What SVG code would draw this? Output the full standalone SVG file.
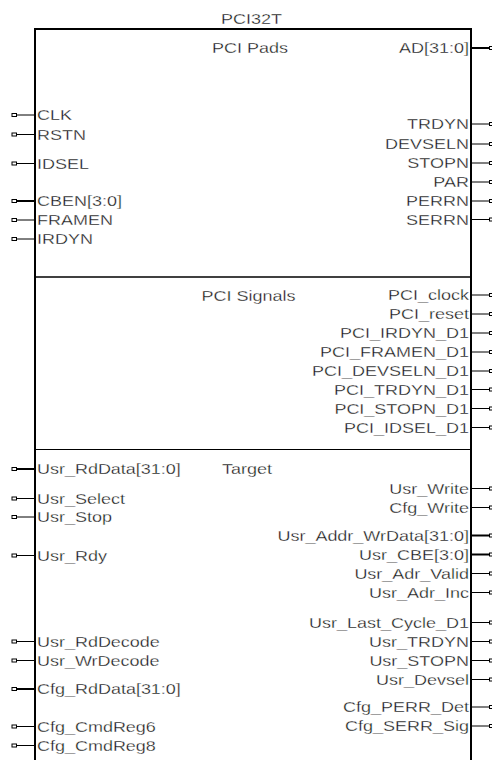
<svg xmlns="http://www.w3.org/2000/svg" width="492" height="760" viewBox="0 0 492 760">
<style>
.box{fill:none;stroke:#000;stroke-width:2}
.div1{stroke:#000;stroke-width:1.6}
.div2{stroke:#000;stroke-width:1.1}
.w{stroke:#000;stroke-width:1}
.bus{stroke:#000;stroke-width:2}
.pin{fill:#fff;stroke:#000;stroke-width:1}
text{font-family:"Liberation Sans",Arial,sans-serif;font-size:15px;fill:#111;stroke:#fff;stroke-width:0.3px}
.l{text-anchor:start}
.r{text-anchor:end}
.c{text-anchor:middle}
</style>
<rect width="492" height="760" fill="#fff"/>
<g id="pci32t">
<path class="box" d="M35,775 V29 H471 V775"/>
<line class="div1" x1="35" y1="277" x2="471" y2="277"/>
<line class="div2" x1="35" y1="449.5" x2="471" y2="449.5"/>
<g transform="scale(1.2 1)">
<text class="c" x="209.6" y="24">PCI32T</text>
<g id="pci-pads">
<text class="l" x="176.7" y="53">PCI Pads</text>
<text class="l" x="30.8" y="120.3">CLK</text>
<text class="l" x="30.8" y="139.8">RSTN</text>
<text class="l" x="30.8" y="168.8">IDSEL</text>
<text class="l" x="30.8" y="206.3">CBEN[3:0]</text>
<text class="l" x="30.8" y="225.3">FRAMEN</text>
<text class="l" x="30.8" y="244.3">IRDYN</text>
<text class="r" x="390.8" y="53.3">AD[31:0]</text>
<text class="r" x="390.8" y="129.3">TRDYN</text>
<text class="r" x="390.8" y="149.3">DEVSELN</text>
<text class="r" x="390.8" y="168.3">STOPN</text>
<text class="r" x="390.8" y="187.3">PAR</text>
<text class="r" x="390.8" y="206.3">PERRN</text>
<text class="r" x="390.8" y="224.8">SERRN</text>
</g>
<g id="pci-signals">
<text class="l" x="167.9" y="301">PCI Signals</text>
<text class="r" x="390.8" y="300.3">PCI_clock</text>
<text class="r" x="390.8" y="319.3">PCI_reset</text>
<text class="r" x="390.8" y="338.3">PCI_IRDYN_D1</text>
<text class="r" x="390.8" y="357.3">PCI_FRAMEN_D1</text>
<text class="r" x="390.8" y="376.3">PCI_DEVSELN_D1</text>
<text class="r" x="390.8" y="394.8">PCI_TRDYN_D1</text>
<text class="r" x="390.8" y="413.8">PCI_STOPN_D1</text>
<text class="r" x="390.8" y="432.8">PCI_IDSEL_D1</text>
</g>
<g id="target">
<text class="l" x="185" y="474.5">Target</text>
<text class="l" x="30.8" y="474.3">Usr_RdData[31:0]</text>
<text class="l" x="30.8" y="503.8">Usr_Select</text>
<text class="l" x="30.8" y="522.3">Usr_Stop</text>
<text class="l" x="30.8" y="560.8">Usr_Rdy</text>
<text class="l" x="30.8" y="646.8">Usr_RdDecode</text>
<text class="l" x="30.8" y="665.8">Usr_WrDecode</text>
<text class="l" x="30.8" y="694.3">Cfg_RdData[31:0]</text>
<text class="l" x="30.8" y="731.8">Cfg_CmdReg6</text>
<text class="l" x="30.8" y="750.8">Cfg_CmdReg8</text>
<text class="r" x="390.8" y="493.8">Usr_Write</text>
<text class="r" x="390.8" y="512.8">Cfg_Write</text>
<text class="r" x="390.8" y="540.8">Usr_Addr_WrData[31:0]</text>
<text class="r" x="390.8" y="559.8">Usr_CBE[3:0]</text>
<text class="r" x="390.8" y="578.8">Usr_Adr_Valid</text>
<text class="r" x="390.8" y="597.8">Usr_Adr_Inc</text>
<text class="r" x="390.8" y="627.8">Usr_Last_Cycle_D1</text>
<text class="r" x="390.8" y="646.8">Usr_TRDYN</text>
<text class="r" x="390.8" y="665.8">Usr_STOPN</text>
<text class="r" x="390.8" y="684.8">Usr_Devsel</text>
<text class="r" x="390.8" y="712.3">Cfg_PERR_Det</text>
<text class="r" x="390.8" y="731.3">Cfg_SERR_Sig</text>
</g>
</g>
</g>
<g id="connectors">
<g id="left-stubs">
<line class="w" x1="16.5" y1="115" x2="35" y2="115"/><rect class="pin" x="12" y="113.5" width="4.5" height="3"/>
<line class="w" x1="16.5" y1="134.5" x2="35" y2="134.5"/><rect class="pin" x="12" y="133" width="4.5" height="3"/>
<line class="w" x1="16.5" y1="163.5" x2="35" y2="163.5"/><rect class="pin" x="12" y="162" width="4.5" height="3"/>
<line class="bus" x1="16.5" y1="201" x2="35" y2="201"/><rect class="pin" x="12" y="199.5" width="4.5" height="3"/>
<line class="w" x1="16.5" y1="220" x2="35" y2="220"/><rect class="pin" x="12" y="218.5" width="4.5" height="3"/>
<line class="w" x1="16.5" y1="239" x2="35" y2="239"/><rect class="pin" x="12" y="237.5" width="4.5" height="3"/>
<line class="bus" x1="16.5" y1="469" x2="35" y2="469"/><rect class="pin" x="12" y="467.5" width="4.5" height="3"/>
<line class="w" x1="16.5" y1="498.5" x2="35" y2="498.5"/><rect class="pin" x="12" y="497" width="4.5" height="3"/>
<line class="w" x1="16.5" y1="517" x2="35" y2="517"/><rect class="pin" x="12" y="515.5" width="4.5" height="3"/>
<line class="w" x1="16.5" y1="555.5" x2="35" y2="555.5"/><rect class="pin" x="12" y="554" width="4.5" height="3"/>
<line class="w" x1="16.5" y1="641.5" x2="35" y2="641.5"/><rect class="pin" x="12" y="640" width="4.5" height="3"/>
<line class="w" x1="16.5" y1="660.5" x2="35" y2="660.5"/><rect class="pin" x="12" y="659" width="4.5" height="3"/>
<line class="bus" x1="16.5" y1="689" x2="35" y2="689"/><rect class="pin" x="12" y="687.5" width="4.5" height="3"/>
<line class="w" x1="16.5" y1="726.5" x2="35" y2="726.5"/><rect class="pin" x="12" y="725" width="4.5" height="3"/>
<line class="w" x1="16.5" y1="745.5" x2="35" y2="745.5"/><rect class="pin" x="12" y="744" width="4.5" height="3"/>
</g>
<g id="right-stubs">
<line class="bus" x1="471" y1="48" x2="489.5" y2="48"/><rect class="pin" x="489.5" y="46.5" width="4.5" height="3"/>
<line class="w" x1="471" y1="124" x2="489.5" y2="124"/><rect class="pin" x="489.5" y="122.5" width="4.5" height="3"/>
<line class="w" x1="471" y1="144" x2="489.5" y2="144"/><rect class="pin" x="489.5" y="142.5" width="4.5" height="3"/>
<line class="w" x1="471" y1="163" x2="489.5" y2="163"/><rect class="pin" x="489.5" y="161.5" width="4.5" height="3"/>
<line class="w" x1="471" y1="182" x2="489.5" y2="182"/><rect class="pin" x="489.5" y="180.5" width="4.5" height="3"/>
<line class="w" x1="471" y1="201" x2="489.5" y2="201"/><rect class="pin" x="489.5" y="199.5" width="4.5" height="3"/>
<line class="w" x1="471" y1="219.5" x2="489.5" y2="219.5"/><rect class="pin" x="489.5" y="218" width="4.5" height="3"/>
<line class="w" x1="471" y1="295" x2="489.5" y2="295"/><rect class="pin" x="489.5" y="293.5" width="4.5" height="3"/>
<line class="w" x1="471" y1="314" x2="489.5" y2="314"/><rect class="pin" x="489.5" y="312.5" width="4.5" height="3"/>
<line class="w" x1="471" y1="333" x2="489.5" y2="333"/><rect class="pin" x="489.5" y="331.5" width="4.5" height="3"/>
<line class="w" x1="471" y1="352" x2="489.5" y2="352"/><rect class="pin" x="489.5" y="350.5" width="4.5" height="3"/>
<line class="w" x1="471" y1="371" x2="489.5" y2="371"/><rect class="pin" x="489.5" y="369.5" width="4.5" height="3"/>
<line class="w" x1="471" y1="389.5" x2="489.5" y2="389.5"/><rect class="pin" x="489.5" y="388" width="4.5" height="3"/>
<line class="w" x1="471" y1="408.5" x2="489.5" y2="408.5"/><rect class="pin" x="489.5" y="407" width="4.5" height="3"/>
<line class="w" x1="471" y1="427.5" x2="489.5" y2="427.5"/><rect class="pin" x="489.5" y="426" width="4.5" height="3"/>
<line class="w" x1="471" y1="488.5" x2="489.5" y2="488.5"/><rect class="pin" x="489.5" y="487" width="4.5" height="3"/>
<line class="w" x1="471" y1="507.5" x2="489.5" y2="507.5"/><rect class="pin" x="489.5" y="506" width="4.5" height="3"/>
<line class="bus" x1="471" y1="535.5" x2="489.5" y2="535.5"/><rect class="pin" x="489.5" y="534" width="4.5" height="3"/>
<line class="bus" x1="471" y1="554.5" x2="489.5" y2="554.5"/><rect class="pin" x="489.5" y="553" width="4.5" height="3"/>
<line class="w" x1="471" y1="573.5" x2="489.5" y2="573.5"/><rect class="pin" x="489.5" y="572" width="4.5" height="3"/>
<line class="w" x1="471" y1="592.5" x2="489.5" y2="592.5"/><rect class="pin" x="489.5" y="591" width="4.5" height="3"/>
<line class="w" x1="471" y1="622.5" x2="489.5" y2="622.5"/><rect class="pin" x="489.5" y="621" width="4.5" height="3"/>
<line class="w" x1="471" y1="641.5" x2="489.5" y2="641.5"/><rect class="pin" x="489.5" y="640" width="4.5" height="3"/>
<line class="w" x1="471" y1="660.5" x2="489.5" y2="660.5"/><rect class="pin" x="489.5" y="659" width="4.5" height="3"/>
<line class="w" x1="471" y1="679.5" x2="489.5" y2="679.5"/><rect class="pin" x="489.5" y="678" width="4.5" height="3"/>
<line class="w" x1="471" y1="707" x2="489.5" y2="707"/><rect class="pin" x="489.5" y="705.5" width="4.5" height="3"/>
<line class="w" x1="471" y1="726" x2="489.5" y2="726"/><rect class="pin" x="489.5" y="724.5" width="4.5" height="3"/>
</g>
</g>
</svg>
